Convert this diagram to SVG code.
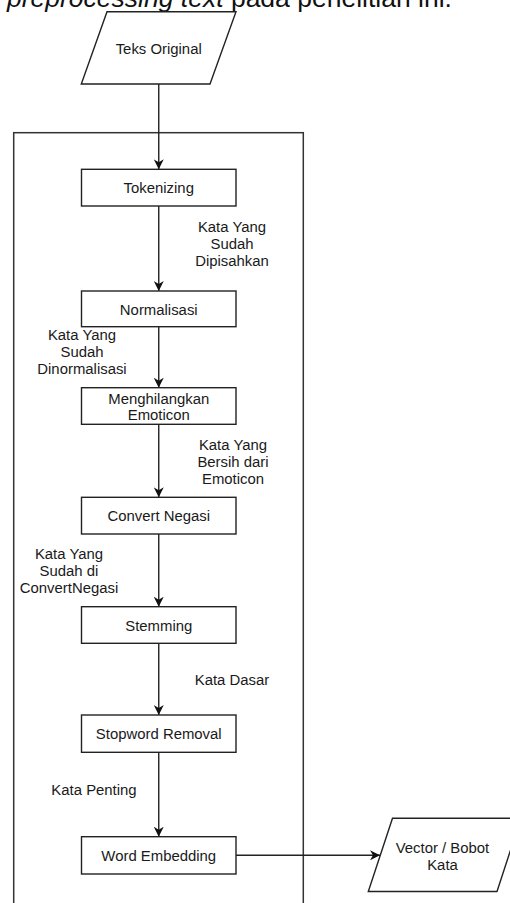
<svg xmlns="http://www.w3.org/2000/svg" width="510" height="903" viewBox="0 0 510 903">
<style>
.t{font-family:"Liberation Sans",Arial,Helvetica,sans-serif;font-size:14.9px;fill:#1a1a1a;text-anchor:middle}
.box{fill:#ffffff;stroke:#222;stroke-width:1.4}
.ln{fill:none;stroke:#222;stroke-width:1.4}
.top{font-family:"Liberation Sans",Arial,Helvetica,sans-serif;font-size:26.5px;fill:#111}
</style>
<defs>
<marker id="ah" markerUnits="userSpaceOnUse" markerWidth="10" markerHeight="10" refX="10" refY="5" orient="auto">
<path d="M0,0 L10,5 L0,10 L3,5 z" fill="#111"/>
</marker>
</defs>
<rect width="510" height="903" fill="#ffffff"/>
<text class="top" x="7" y="7"><tspan font-style="italic">preprocessing text</tspan> pada penelitian ini.</text>
<g id="container"><rect x="13.7" y="132.7" width="289.6" height="800" fill="none" stroke="#333" stroke-width="1.5"/></g>
<g id="connectors">
<line class="ln" x1="158.75" y1="84" x2="158.75" y2="169.3" marker-end="url(#ah)"/>
<line class="ln" x1="158.75" y1="206" x2="158.75" y2="291" marker-end="url(#ah)"/>
<line class="ln" x1="158.75" y1="326.7" x2="158.75" y2="387.7" marker-end="url(#ah)"/>
<line class="ln" x1="158.75" y1="424.3" x2="158.75" y2="497.3" marker-end="url(#ah)"/>
<line class="ln" x1="158.75" y1="534" x2="158.75" y2="606.7" marker-end="url(#ah)"/>
<line class="ln" x1="158.75" y1="643.3" x2="158.75" y2="715" marker-end="url(#ah)"/>
<line class="ln" x1="158.75" y1="752.3" x2="158.75" y2="836.7" marker-end="url(#ah)"/>
<line class="ln" x1="236" y1="855.3" x2="380" y2="855.3" marker-end="url(#ah)"/>
</g>
<g id="labels">
<text class="t" x="232" y="231.5">Kata Yang</text>
<text class="t" x="232" y="248.5">Sudah</text>
<text class="t" x="232" y="265.5">Dipisahkan</text>
<text class="t" x="82" y="340">Kata Yang</text>
<text class="t" x="82" y="357">Sudah</text>
<text class="t" x="82" y="374">Dinormalisasi</text>
<text class="t" x="233" y="450">Kata Yang</text>
<text class="t" x="233" y="467">Bersih dari</text>
<text class="t" x="233" y="484">Emoticon</text>
<text class="t" x="69" y="558.5">Kata Yang</text>
<text class="t" x="69" y="575.5">Sudah di</text>
<text class="t" x="69" y="592.5">ConvertNegasi</text>
<text class="t" x="232" y="685">Kata Dasar</text>
<text class="t" x="94" y="795">Kata Penting</text>
</g>
<g id="teks-original">
<polygon class="box" points="107,11.7 236,11.7 210,84 81.3,84"/>
<text class="t" x="158.7" y="54">Teks Original</text>
</g>
<g id="tokenizing">
<rect class="box" x="81.5" y="169.3" width="154.5" height="36.7"/>
<text class="t" x="158.75" y="193">Tokenizing</text>
</g>
<g id="normalisasi">
<rect class="box" x="81.5" y="291" width="154.5" height="35.7"/>
<text class="t" x="158.75" y="314.5">Normalisasi</text>
</g>
<g id="menghilangkan-emoticon">
<rect class="box" x="81.5" y="387.7" width="154.5" height="36.6"/>
<text class="t" x="158.75" y="403.5">Menghilangkan</text>
<text class="t" x="158.75" y="420">Emoticon</text>
</g>
<g id="convert-negasi">
<rect class="box" x="81.5" y="497.3" width="154.5" height="36.7"/>
<text class="t" x="158.75" y="521">Convert Negasi</text>
</g>
<g id="stemming">
<rect class="box" x="81.5" y="606.7" width="154.5" height="36.6"/>
<text class="t" x="158.75" y="630.5">Stemming</text>
</g>
<g id="stopword-removal">
<rect class="box" x="81.5" y="715" width="154.5" height="37.3"/>
<text class="t" x="158.75" y="739">Stopword Removal</text>
</g>
<g id="word-embedding">
<rect class="box" x="81.5" y="836.7" width="154.5" height="37.3"/>
<text class="t" x="158.75" y="860.5">Word Embedding</text>
</g>
<g id="vector-bobot-kata">
<polygon class="box" points="392.5,818.3 521,818.3 497,891.5 368.3,891.5"/>
<text class="t" x="442.5" y="853">Vector / Bobot</text>
<text class="t" x="442.5" y="870">Kata</text>
</g>
</svg>
